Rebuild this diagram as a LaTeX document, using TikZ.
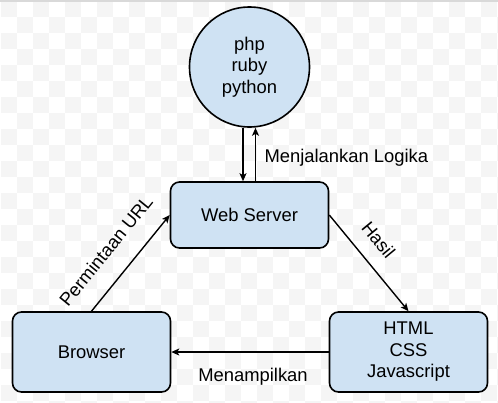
\documentclass[tikz,border=0pt]{standalone}
\usepackage{fontspec}
\setmainfont{Liberation Sans}
\usepackage{tikz}
\usepackage{xcolor}
\usetikzlibrary{arrows.meta,positioning}
\definecolor{boxblue}{RGB}{207,226,243}
\definecolor{chkgray}{RGB}{245,245,245}

\begin{document}
\begin{tikzpicture}[x=1pt,y=1pt,font=\fontsize{18.4}{21.5}\selectfont,
  >={Stealth[length=8pt,width=7pt,inset=2pt]}]
\tikzset{box/.style={draw,line width=1.6pt,rounded corners=9pt,fill=boxblue,
minimum width=158pt,minimum height=80pt,align=center},
link/.style={->,line width=1.4pt}}
\useasboundingbox (0,0) rectangle (498,-402);
% background squares
\begin{scope}
\clip (0,0) rectangle (498,-402);
\foreach \i in {0,...,31}{\foreach \j in {0,...,25}{
  \pgfmathtruncatemacro\chk{mod(\i+\j,2)}
  \ifnum\chk=0 \fill[chkgray] (1+16*\i,-1-16*\j) rectangle ++(16,-16);\fi}}
\draw[gray!30,line width=1.5pt] (0,-0.75)--(498,-0.75);
\end{scope}
\node[circle,draw,line width=1.6pt,fill=boxblue,minimum size=120pt,inner sep=0pt,
align=center] (lang) at (249.5,-67) {php\\ruby\\python};
\node[box,minimum height=66pt,below=53.4pt of lang] (srv) {Web Server};
\node[box,below left=62.4pt and -1.6pt of srv] (brw) {Browser};
\node[box,below right=62.4pt and -0.6pt of srv] (res) {HTML\\CSS\\Javascript};
\draw[link] ([xshift=-6.5pt]lang.south)--([xshift=-6.5pt]srv.north);
\draw[link] ([xshift=6pt]srv.north)--node[right=5pt,yshift=-3pt]{Menjalankan Logika}([xshift=6pt]lang.south);
\draw[link] (brw.north)--node[sloped,above=16pt,pos=0.45]{Permintaan URL}(srv.west);
\draw[link] (srv.east)--node[sloped,above=11.5pt,pos=0.405]{Hasil}(res.north);
\draw[link] (res.west)--node[below=12pt,xshift=3pt]{Menampilkan}(brw.east);
\end{tikzpicture}
\end{document}
